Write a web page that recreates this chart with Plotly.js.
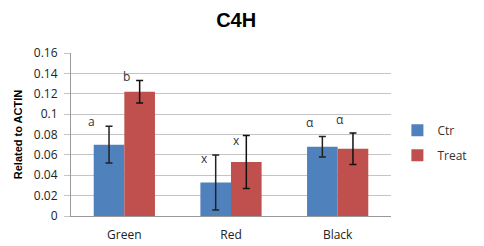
<!DOCTYPE html>
<html>
<head>
<meta charset="utf-8">
<script src="https://cdn.plot.ly/plotly-3.0.1.min.js"></script>
<style>html,body{margin:0;padding:0;background:#fff;}#chart{width:484px;height:246px;}</style>
</head>
<body>
<div id="chart"></div>
<script>
const categories = ["Green", "Red", "Black"];
const ctrValues = [0.070, 0.033, 0.068];
const ctrErrors = [0.018, 0.027, 0.010];
const treatValues = [0.122, 0.053, 0.066];
const treatErrors = [0.011, 0.026, 0.0155];
const ctrLetters = ["a", "x", "α"];
const treatLetters = ["b", "x", "α"];

const font = "'Open Sans', sans-serif";

const traces = [
  {type: "bar", name: "Ctr", legendgroup: "g1", x: categories, y: ctrValues,
   marker: {color: "#4F81BD"},
   error_y: {type: "data", array: ctrErrors, visible: true, color: "#222", thickness: 1.5, width: 3.5}},
  {type: "bar", name: "Treat", legendgroup: "g2", x: categories, y: treatValues,
   marker: {color: "#C0504D"},
   error_y: {type: "data", array: treatErrors, visible: true, color: "#111", thickness: 1.5, width: 3.5}}
];

const ctrLabelPos = [[-33, 0.0931], [-26.5, 0.0566], [-28, 0.092]];
const treatLabelPos = [[2, 0.137], [5, 0.074], [2, 0.0948]];
const annotations = [];
categories.forEach((c, i) => {
  annotations.push({x: c, y: ctrLabelPos[i][1], xshift: ctrLabelPos[i][0], text: ctrLetters[i], showarrow: false,
    font: {family: font, size: 12, color: "#333"}});
  annotations.push({x: c, y: treatLabelPos[i][1], xshift: treatLabelPos[i][0], text: treatLetters[i], showarrow: false,
    font: {family: font, size: 12, color: "#333"}});
});

const layout = {
  width: 484, height: 246,
  margin: {l: 71, r: 84, t: 53, b: 30, pad: 0},
  paper_bgcolor: "#fff", plot_bgcolor: "#fff",
  title: {text: "<b>C4H</b>", x: 0.488, xanchor: "center", y: 0.92, yanchor: "middle",
    font: {family: "'Liberation Sans', Arial, sans-serif", size: 20, color: "#000"}},
  barmode: "group", bargap: 0.426, bargroupgap: 0,
  showlegend: true,
  legend: {x: 1.02, xanchor: "left", y: 0.45, yanchor: "middle", font: {family: font, size: 12, color: "#333"},
    traceorder: "grouped", tracegroupgap: 6, itemwidth: 30, bgcolor: "rgba(0,0,0,0)"},
  xaxis: {type: "category", showgrid: false, showline: true, linecolor: "#999", linewidth: 1,
    ticks: "", ticklabelstandoff: 8, tickfont: {family: font, size: 12, color: "#222"}, zeroline: false},
  yaxis: {range: [0, 0.16], showgrid: true, gridcolor: "#c4c4c4", gridwidth: 1,
    showline: true, linecolor: "#999", linewidth: 1, ticks: "outside", ticklen: 6, tickcolor: "#c4c4c4",
    ticklabelstandoff: 4, zeroline: false,
    tickvals: [0, 0.02, 0.04, 0.06, 0.08, 0.1, 0.12, 0.14, 0.16],
    ticktext: ["0", "0.02", "0.04", "0.06", "0.08", "0.1", "0.12", "0.14", "0.16"],
    tickfont: {family: font, size: 12, color: "#222"},
    title: {text: "<b>Related to ACTIN</b>", standoff: 8, font: {family: "'Liberation Sans', Arial, sans-serif", size: 11, color: "#000"}}},
  annotations: annotations
};

Plotly.newPlot("chart", traces, layout, {displayModeBar: false, staticPlot: true});
</script>
</body>
</html>
